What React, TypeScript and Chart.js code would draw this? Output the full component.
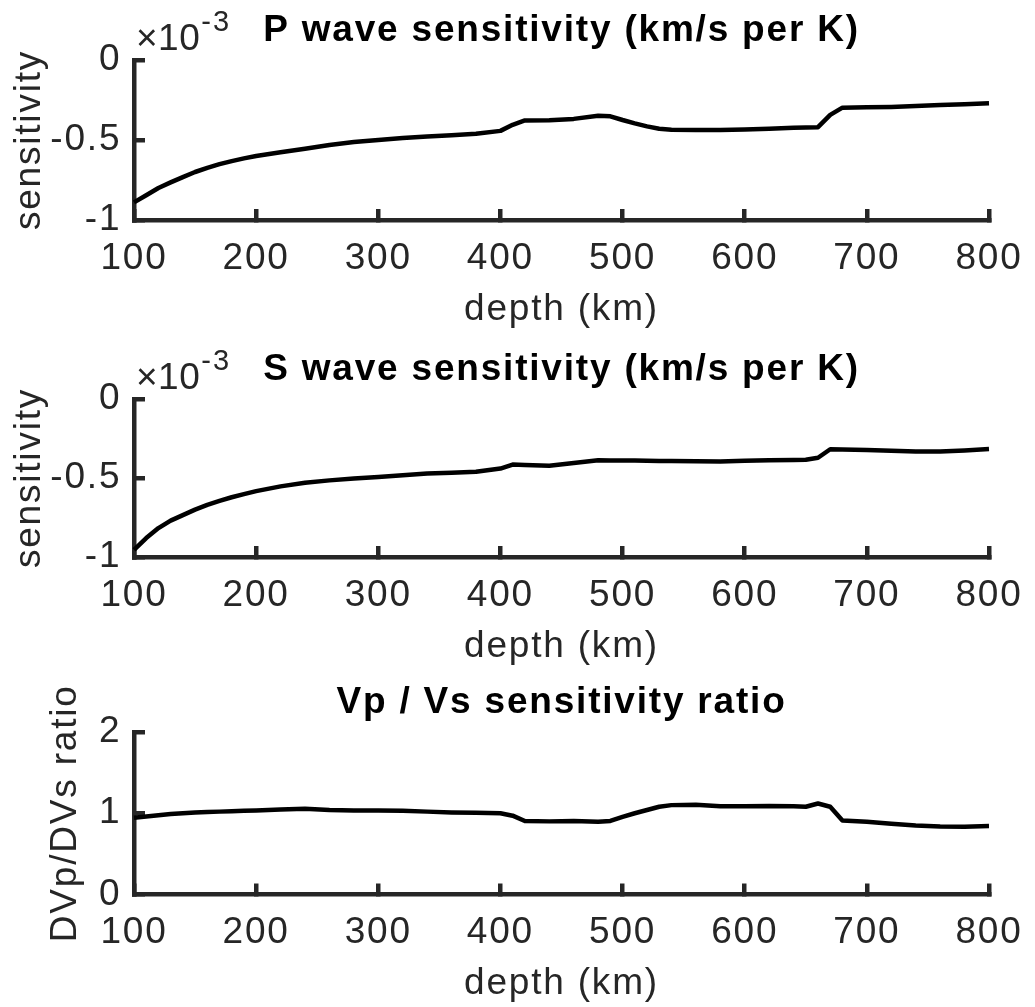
import React, { useEffect, useRef } from "react";
import { Chart, registerables } from "chart.js";

Chart.register(...registerables);

// Depth samples (km)
const depthKm = [
  100, 110, 120, 130, 140, 150, 160, 170, 180, 190, 200,
  220, 240, 260, 280, 300, 320, 340, 360, 380, 400,
  410, 420, 440, 460, 480, 490, 500, 510, 520, 530, 540,
  560, 580, 600, 620, 640, 650, 660, 670, 680,
  700, 720, 740, 760, 780, 800,
];

// P wave sensitivity (x 10^-3 km/s per K)
const pSensitivity = [
  -0.89, -0.845, -0.8, -0.765, -0.732, -0.7, -0.674, -0.651, -0.632, -0.615, -0.6,
  -0.577, -0.555, -0.531, -0.513, -0.5, -0.488, -0.478, -0.47, -0.461, -0.443,
  -0.405, -0.378, -0.376, -0.368, -0.349, -0.352, -0.375, -0.396, -0.415, -0.43, -0.436,
  -0.438, -0.437, -0.434, -0.429, -0.424, -0.422, -0.42, -0.343, -0.298,
  -0.295, -0.293, -0.288, -0.282, -0.276, -0.27,
];

// S wave sensitivity (x 10^-3 km/s per K)
const sSensitivity = [
  -0.955, -0.88, -0.817, -0.77, -0.735, -0.7, -0.67, -0.645, -0.622, -0.602, -0.583,
  -0.553, -0.53, -0.515, -0.503, -0.494, -0.482, -0.472, -0.467, -0.461, -0.44,
  -0.415, -0.418, -0.422, -0.405, -0.388, -0.389, -0.39, -0.39, -0.391, -0.392, -0.392,
  -0.394, -0.396, -0.391, -0.387, -0.386, -0.385, -0.372, -0.318, -0.32,
  -0.322, -0.327, -0.332, -0.332, -0.326, -0.317,
];

// Vp / Vs sensitivity ratio
const vpVsRatio = [
  0.945, 0.96, 0.975, 0.99, 1.0, 1.01, 1.015, 1.02, 1.025, 1.03, 1.035,
  1.045, 1.055, 1.04, 1.035, 1.035, 1.03, 1.02, 1.01, 1.005, 1.0,
  0.97, 0.905, 0.9, 0.905, 0.895, 0.905, 0.955, 1.0, 1.04, 1.08, 1.1,
  1.105, 1.085, 1.085, 1.09, 1.085, 1.08, 1.12, 1.08, 0.91,
  0.895, 0.87, 0.85, 0.838, 0.835, 0.842,
];

const depthRange = [100, 800];
const depthStep = 100;
const sensRange = [-1, 0];
const sensStep = 0.5;
const ratioRange = [0, 2];
const ratioStep = 1;

const FONT = "'Liberation Sans', Arial, Helvetica, sans-serif";
const AXIS_COLOR = "#262626";
const FONT_SIZE = 37;
const LH = FONT_SIZE * 1.2;
const TICK_LEN = -11;
const AREA_LEFT = 134;
const AREA_RIGHT = 989;

const spacingPlugin = {
  id: "letterSpacingAll",
  beforeDraw(chart: any) {
    (chart.ctx as any).letterSpacing = "1.8px";
  },
};

const exponentPlugin = {
  id: "exponentLabel",
  afterDraw(chart: any) {
    const ctx = chart.ctx;
    const area = chart.chartArea;
    ctx.save();
    (ctx as any).letterSpacing = "0.5px";
    ctx.fillStyle = AXIS_COLOR;
    ctx.textAlign = "left";
    ctx.textBaseline = "alphabetic";
    ctx.font = `${FONT_SIZE}px ${FONT}`;
    const x0 = area.left + 2;
    ctx.fillText("\u00d710", x0, area.top - 10);
    const w = ctx.measureText("\u00d710").width;
    (ctx as any).letterSpacing = "2px";
    ctx.font = `29px ${FONT}`;
    ctx.fillText("-3", x0 + w + 1, area.top - 29);
    ctx.restore();
  },
};

type PanelProps = {
  canvasTop: number;
  canvasHeight: number;
  areaTop: number;
  areaBottom: number;
  yTitleX: number;
  title: string;
  yTitle: string;
  values: number[];
  yRange: number[];
  yStep: number;
  exponent: boolean;
};

function Panel(props: PanelProps) {
  const ref = useRef<HTMLCanvasElement | null>(null);
  useEffect(() => {
    if (!ref.current) return;
    const { canvasTop, canvasHeight, areaTop, areaBottom, yTitleX } = props;
    const topSpace = areaTop - canvasTop;
    const titleCenter = topSpace - 29;
    const titleLH = FONT_SIZE * 1.2;
    const titlePadTop = titleCenter - titleLH / 2;
    const titlePadBottom = topSpace - titlePadTop - titleLH;
    const xAxisHeight = canvasTop + canvasHeight - areaBottom;
    const xTitleCenter = areaBottom + 89.5 - canvasTop;
    const xTitlePadBottom = canvasHeight - LH / 2 - xTitleCenter;
    // x tick label middle sits 38.5px below the axis: tickAndPadding = 0, offset = lineHeight / 2
    const xTickLineHeight = (2 * 38.5) / FONT_SIZE;

    const chart = new Chart(ref.current, {
      type: "line",
      data: {
        datasets: [
          {
            data: depthKm.map((d, i) => ({ x: d, y: props.values[i] })),
            borderColor: "#000000",
            borderWidth: 4.5,
            pointRadius: 0,
            tension: 0,
            fill: false,
            borderJoinStyle: "round",
            clip: 4,
          } as any,
        ],
      },
      options: {
        animation: false,
        responsive: false,
        devicePixelRatio: 1,
        layout: { padding: { top: 0, left: 0, right: 1035 - AREA_RIGHT, bottom: 0 } },
        plugins: {
          legend: { display: false },
          tooltip: { enabled: false },
          title: {
            display: true,
            text: props.title,
            color: "#000000",
            fullSize: false,
            font: { family: FONT, size: FONT_SIZE, weight: "bold", lineHeight: 1.2 },
            padding: { top: titlePadTop, bottom: titlePadBottom },
          },
        },
        scales: {
          x: {
            type: "linear",
            min: depthRange[0],
            max: depthRange[1],
            afterFit: (scale: any) => {
              scale.height = xAxisHeight;
            },
            ticks: {
              stepSize: depthStep,
              color: AXIS_COLOR,
              font: { family: FONT, size: FONT_SIZE, lineHeight: xTickLineHeight },
              padding: -TICK_LEN,
              maxRotation: 0,
              autoSkip: false,
              callback: (v: any) => String(v),
            },
            grid: {
              display: true,
              drawOnChartArea: false,
              drawTicks: true,
              tickLength: TICK_LEN,
              color: AXIS_COLOR,
              lineWidth: 4.5,
            },
            border: { display: true, color: AXIS_COLOR, width: 4.5 },
            title: {
              display: true,
              text: "depth (km)",
              color: AXIS_COLOR,
              font: { family: FONT, size: FONT_SIZE, lineHeight: 1.2 },
              padding: { top: 0, bottom: xTitlePadBottom },
            },
          },
          y: {
            type: "linear",
            min: props.yRange[0],
            max: props.yRange[1],
            afterFit: (scale: any) => {
              scale.width = AREA_LEFT;
            },
            ticks: {
              stepSize: props.yStep,
              color: AXIS_COLOR,
              font: { family: FONT, size: FONT_SIZE, lineHeight: 1.2 },
              padding: 12.7 - TICK_LEN,
              autoSkip: false,
              callback: (v: any) => String(v),
            },
            grid: {
              display: true,
              drawOnChartArea: false,
              drawTicks: true,
              tickLength: TICK_LEN,
              color: AXIS_COLOR,
              lineWidth: 4.5,
            },
            border: { display: true, color: AXIS_COLOR, width: 4.5 },
            title: {
              display: true,
              text: props.yTitle,
              color: AXIS_COLOR,
              font: { family: FONT, size: FONT_SIZE, lineHeight: 1.2 },
              padding: { top: yTitleX - LH / 2, bottom: 0 },
            },
          },
        },
      } as any,
      plugins: props.exponent ? [spacingPlugin, exponentPlugin] : [spacingPlugin],
    });
    return () => chart.destroy();
  }, []);

  return (
    <canvas
      ref={ref}
      width={1035}
      height={props.canvasHeight}
      style={{
        position: "absolute",
        left: 0,
        top: props.canvasTop,
        width: 1035,
        height: props.canvasHeight,
      }}
    />
  );
}

export default function App() {
  return (
    <div
      style={{
        position: "absolute",
        left: 0,
        top: 0,
        width: 1035,
        height: 1007,
        overflow: "hidden",
        background: "#ffffff",
      }}
    >
      <Panel
        canvasTop={0}
        canvasHeight={335}
        areaTop={60}
        areaBottom={220}
        yTitleX={30}
        title="P wave sensitivity (km/s per K)"
        yTitle="sensitivity"
        values={pSensitivity}
        yRange={sensRange}
        yStep={sensStep}
        exponent={true}
      />
      <Panel
        canvasTop={339}
        canvasHeight={335}
        areaTop={399}
        areaBottom={557}
        yTitleX={30}
        title="S wave sensitivity (km/s per K)"
        yTitle="sensitivity"
        values={sSensitivity}
        yRange={sensRange}
        yStep={sensStep}
        exponent={true}
      />
      <Panel
        canvasTop={674}
        canvasHeight={333}
        areaTop={732}
        areaBottom={894.5}
        yTitleX={66}
        title="Vp / Vs sensitivity ratio"
        yTitle="DVp/DVs ratio"
        values={vpVsRatio}
        yRange={ratioRange}
        yStep={ratioStep}
        exponent={false}
      />
    </div>
  );
}
